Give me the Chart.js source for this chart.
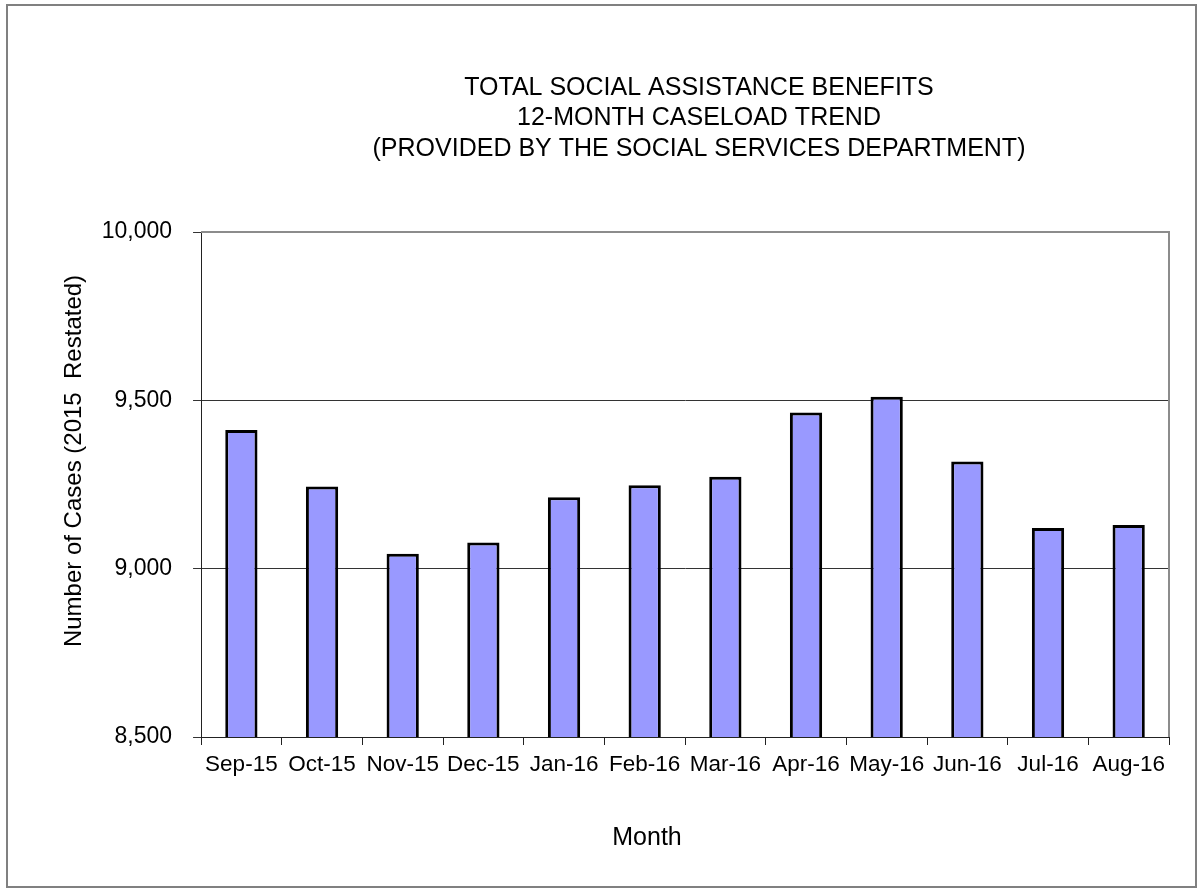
<!DOCTYPE html>
<html>
<head>
    <title>Social Assistance Caseload</title>
    <script src="https://cdn.jsdelivr.net/npm/chart.js"></script>
    <style>
        body { margin: 0; background: #fff; }
        #chartjs { display: block; }
    </style>
</head>
<body>
    <canvas id="chartjs" width="1202" height="892"></canvas>

    <script>
        const months = ['Sep-15', 'Oct-15', 'Nov-15', 'Dec-15', 'Jan-16', 'Feb-16',
                        'Mar-16', 'Apr-16', 'May-16', 'Jun-16', 'Jul-16', 'Aug-16'];
        const cases = [9412, 9244, 9044, 9078, 9212, 9248, 9273, 9464, 9511, 9318, 9121, 9130];
        const titleLines = ['TOTAL SOCIAL ASSISTANCE BENEFITS',
                            '12-MONTH CASELOAD TREND',
                            '(PROVIDED BY THE SOCIAL SERVICES DEPARTMENT)'];
        const xTitle = 'Month';
        const yTitle = 'Number of Cases (2015  Restated)';
        const yMin = 8500;
        const yMax = 10000;
        const yStep = 500;

        const FONT = "'Liberation Sans', Arial, sans-serif";

        // outer frame, titles and the grey plot border (Excel-style placement)
        const decorPlugin = {
            id: 'decor',
            beforeDraw: (chart) => {
                const ctx = chart.ctx;
                ctx.save();
                ctx.strokeStyle = '#808080';
                ctx.lineWidth = 2;
                ctx.strokeRect(7, 5, 1189, 882);
                ctx.restore();
            },
            afterDraw: (chart) => {
                const ctx = chart.ctx;
                const area = chart.chartArea;
                ctx.save();
                ctx.strokeStyle = '#8c8c8c';
                ctx.lineWidth = 2;
                ctx.beginPath();
                ctx.moveTo(area.left, area.top);
                ctx.lineTo(area.right, area.top);
                ctx.lineTo(area.right, area.bottom);
                ctx.stroke();

                ctx.fillStyle = '#000';
                ctx.font = '25px ' + FONT;
                ctx.textAlign = 'center';
                ctx.textBaseline = 'alphabetic';
                titleLines.forEach((line, i) => {
                    ctx.fillText(line, 699, 95 + i * 30.3);
                });
                ctx.fillText(xTitle, 647, 845);

                ctx.font = '24px ' + FONT;
                ctx.textBaseline = 'middle';
                ctx.translate(74, 461);
                ctx.rotate(-Math.PI / 2);
                ctx.fillText(yTitle, 0, 0);
                ctx.restore();
            }
        };

        const ctx = document.getElementById('chartjs').getContext('2d');

        new Chart(ctx, {
            type: 'bar',
            data: {
                labels: months,
                datasets: [{
                    label: 'Cases',
                    data: cases,
                    backgroundColor: '#9999ff',
                    borderColor: '#000',
                    borderWidth: 3,
                    borderSkipped: false,
                    barPercentage: 0.4,
                    categoryPercentage: 1
                }]
            },
            plugins: [decorPlugin],
            options: {
                responsive: false,
                animation: false,
                layout: {
                    padding: { left: 80.7, right: 33, top: 232, bottom: 108 }
                },
                scales: {
                    x: {
                        offset: true,
                        grid: {
                            offset: true,
                            drawOnChartArea: false,
                            tickLength: 8,
                            color: '#222'
                        },
                        border: { color: '#222', width: 1 },
                        ticks: {
                            color: '#000',
                            padding: 6,
                            maxRotation: 0,
                            autoSkip: false,
                            font: { family: FONT, size: 22.5 }
                        }
                    },
                    y: {
                        min: yMin,
                        max: yMax,
                        ticks: {
                            stepSize: yStep,
                            color: '#000',
                            padding: 21,
                            font: { family: FONT, size: 23 },
                            callback: (v) => v.toLocaleString('en-US')
                        },
                        grid: {
                            color: '#333',
                            lineWidth: 1,
                            tickLength: 8
                        },
                        border: { color: '#222', width: 1 }
                    }
                },
                plugins: {
                    legend: { display: false },
                    tooltip: { enabled: false },
                    title: { display: false }
                }
            }
        });
    </script>
</body>
</html>
